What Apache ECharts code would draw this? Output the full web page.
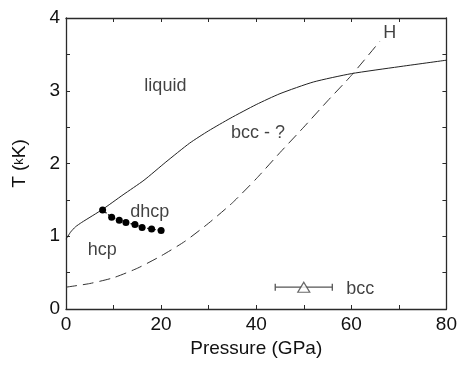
<!DOCTYPE html>
<html>
<head>
<meta charset="utf-8">
<script src="https://cdn.jsdelivr.net/npm/echarts@6/dist/echarts.min.js"></script>
<style>
html,body{margin:0;padding:0;background:#fff;}
#c{width:460px;height:365px;}
</style>
</head>
<body>
<div id="c"></div>
<script>
// Melting curve (solid)
const meltP = [0, 1, 2, 3.3, 7.7, 12, 16.4, 21, 26, 30, 34.5, 40, 45, 52, 60, 70, 80];
const meltT = [0.96, 1.06, 1.13, 1.19, 1.37, 1.57, 1.77, 2.02, 2.28, 2.45, 2.62, 2.81, 2.96, 3.12, 3.235, 3.33, 3.42];
// hcp/bcc boundary (dashed)
const dashP = [0, 5, 10, 15, 20, 25, 30, 35, 40, 45, 50, 55, 60, 66];
const dashT = [0.30, 0.35, 0.43, 0.56, 0.73, 0.93, 1.18, 1.46, 1.79, 2.15, 2.50, 2.86, 3.21, 3.68];
// dhcp points
const dotP = [7.7, 9.6, 11.2, 12.6, 14.5, 16.0, 18.0, 20.0];
const dotT = [1.36, 1.26, 1.22, 1.19, 1.16, 1.12, 1.10, 1.08];
// bcc point with error bar
const bccP = 50, bccT = 0.30, bccErr = 6;
// labels
const labelText = ['liquid', 'bcc - ?', 'H', 'dhcp', 'hcp', 'bcc'];
const labelP = [20.9, 40.4, 68.1, 17.6, 7.6, 61.9];
const labelT = [3.06, 2.42, 3.80, 1.33, 0.81, 0.28];
const xTicks = [0, 20, 40, 60, 80];
const yTicks = [0, 1, 2, 3, 4];

const zip = (a, b) => a.map((v, i) => [v, b[i]]);
const FONT = '"Liberation Sans", Arial, sans-serif';
const AX = '#2a2a2a';

const chart = echarts.init(document.getElementById('c'));
const baseAxis = {
  axisLine: {show: true, onZero: false, lineStyle: {color: AX, width: 1.3}},
  axisTick: {show: true, inside: true, length: 4, lineStyle: {color: AX, width: 1}},
  splitLine: {show: false}
};
chart.setOption({
  animation: false,
  backgroundColor: '#fff',
  textStyle: {fontFamily: FONT},
  grid: {left: 66, right: 13, top: 18, bottom: 56},
  xAxis: [
    Object.assign({}, baseAxis, {
      type: 'value', min: 0, max: 80, interval: 10, position: 'bottom',
      name: 'Pressure (GPa)', nameLocation: 'middle', nameGap: 27,
      nameTextStyle: {fontSize: 19, color: '#111', fontFamily: FONT},
      axisLabel: {fontSize: 19, color: '#111', margin: 6, fontFamily: FONT,
        formatter: v => xTicks.includes(v) ? String(v) : ''}
    }),
    Object.assign({}, baseAxis, {
      type: 'value', min: 0, max: 80, interval: 10, position: 'top',
      axisLabel: {show: false}
    })
  ],
  yAxis: [
    Object.assign({}, baseAxis, {
      type: 'value', min: 0, max: 4, interval: 0.5, position: 'left',
      name: '{a|T (}{b|k}{a|K)}', nameLocation: 'middle', nameGap: 37, nameRotate: 90,
      nameTextStyle: {rich: {a: {fontSize: 19, color: '#111', fontFamily: FONT}, b: {fontSize: 13, color: '#111', fontFamily: FONT}}},
      axisLabel: {fontSize: 19, color: '#111', margin: 6, fontFamily: FONT,
        formatter: v => yTicks.includes(v) ? String(v) : ''}
    }),
    Object.assign({}, baseAxis, {
      type: 'value', min: 0, max: 4, interval: 0.5, position: 'right',
      axisLabel: {show: false}
    })
  ],
  series: [
    {type: 'line', data: zip(meltP, meltT), showSymbol: false, symbol: 'none', smooth: 0.2,
      lineStyle: {color: '#222', width: 1}},
    {type: 'line', data: zip(dashP, dashT), showSymbol: false, symbol: 'none', smooth: 0.2,
      lineStyle: {color: '#333', width: 1, type: [11, 6]}},
    {type: 'line', data: zip(dotP, dotT), symbol: 'circle', symbolSize: 7,
      itemStyle: {color: '#000'}, lineStyle: {color: '#000', width: 1.2, type: [1.5, 2]}},
    {type: 'line', data: [[bccP - bccErr, bccT], [bccP + bccErr, bccT]], symbol: 'rect', symbolSize: [1.3, 7],
      itemStyle: {color: '#555'}, lineStyle: {color: '#555', width: 1.3}},
    {type: 'scatter', data: [[bccP, bccT]], symbol: 'triangle', symbolSize: [12, 10],
      itemStyle: {color: '#fff', borderColor: '#444', borderWidth: 1.2}, z: 5},
    {type: 'scatter', symbolSize: 0, silent: true,
      data: labelText.map((t, i) => ({value: [labelP[i], labelT[i]], name: t})),
      label: {show: true, position: 'inside', formatter: p => p.name, fontSize: 18, color: '#111', fontFamily: FONT}}
  ]
});
</script>
</body>
</html>
